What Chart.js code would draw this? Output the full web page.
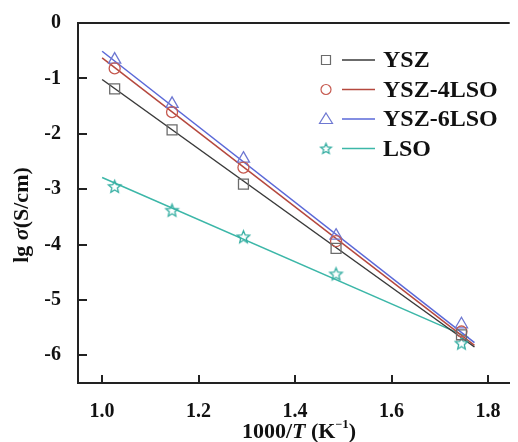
<!DOCTYPE html>
<html lang="en">
<head>
<meta charset="UTF-8">
<title>Conductivity vs 1000/T</title>
<style>
  body { margin: 0; background: #fff; overflow: hidden; }
  #wrap { width: 518px; height: 442px; }
</style>
<script src="https://cdn.jsdelivr.net/npm/chart.js"></script>
</head>
<body>
<div id="wrap"><canvas id="myChart" width="518" height="442"></canvas></div>
<script>
  // measured points, 1000/T (K^-1) against lg sigma (S/cm)
  var invT    = [1.026, 1.145, 1.293, 1.485, 1.745];
  var ysz     = [-1.19, -1.93, -2.91, -4.07, -5.63];
  var ysz4lso = [-0.82, -1.61, -2.61, -3.94, -5.57];
  var ysz6lso = [-0.66, -1.46, -2.45, -3.84, -5.44];
  var lso     = [-2.95, -3.38, -3.86, -4.53, -5.78];

  // straight-line fits, end points
  var fitX       = [1.0, 1.772];
  var fitXLso    = [1.0, 1.76];
  var fitYsz     = [-1.02, -5.85];
  var fitYsz4lso = [-0.63, -5.82];
  var fitYsz6lso = [-0.51, -5.77];
  var fitLso     = [-2.79, -5.68];

  var xTicks = [1.0, 1.2, 1.4, 1.6, 1.8];
  var yTicks = [0, -1, -2, -3, -4, -5, -6];
  var names  = ['YSZ', 'YSZ-4LSO', 'YSZ-6LSO', 'LSO'];

  var markColors = ['#6b6b6b', '#c65a50', '#6e78d2', '#35aea2'];
  var lineColors = ['#3a3a3a', '#b5483e', '#5a68d8', '#3cb7a8'];

  var serif = '"Liberation Serif", "Times New Roman", serif';

  function starImage(color, r) {
    var c = document.createElement('canvas');
    var s = Math.ceil(r * 2 + 4);
    c.width = s; c.height = s;
    var g = c.getContext('2d');
    g.strokeStyle = color;
    g.lineWidth = 1.3;
    g.beginPath();
    for (var i = 0; i < 10; i++) {
      var rr = i % 2 ? r * 0.45 : r;
      var a = -Math.PI / 2 + i * Math.PI / 5;
      var px = s / 2 + rr * Math.cos(a), py = s / 2 + 0.5 + rr * Math.sin(a);
      if (i) g.lineTo(px, py); else g.moveTo(px, py);
    }
    g.closePath();
    g.stroke();
    return c;
  }

  var star = starImage(markColors[3], 6.5);
  var starSmall = starImage(markColors[3], 5.5);

  function pts(xs, ys) {
    return xs.map(function (x, i) { return { x: x, y: ys[i] }; });
  }

  function markSet(i, ys, style, r) {
    return {
      label: names[i], data: pts(invT, ys), showLine: false,
      pointStyle: style, pointRadius: r, pointHoverRadius: r,
      pointBorderColor: markColors[i], pointBackgroundColor: 'rgba(0,0,0,0)',
      pointBorderWidth: 1.3, order: 1
    };
  }

  function fitSet(i, xs, ys) {
    return {
      label: names[i] + ' fit', data: pts(xs, ys), showLine: true,
      borderColor: lineColors[i], borderWidth: 1.5, pointRadius: 0, order: 2
    };
  }

  function drawRich(ctx, parts, x, y, rotate) {
    var w = 0;
    parts.forEach(function (p) { ctx.font = p.f; w += ctx.measureText(p.t).width; });
    ctx.save();
    ctx.translate(x, y);
    if (rotate) ctx.rotate(-Math.PI / 2);
    ctx.textBaseline = 'alphabetic';
    ctx.textAlign = 'left';
    ctx.fillStyle = '#111';
    var cx = -w / 2;
    parts.forEach(function (p) {
      ctx.font = p.f;
      ctx.fillText(p.t, cx, p.dy || 0);
      cx += ctx.measureText(p.t).width;
    });
    ctx.restore();
  }

  function legendMark(ctx, i, x, y) {
    ctx.save();
    ctx.strokeStyle = markColors[i];
    ctx.lineWidth = 1.2;
    ctx.beginPath();
    if (i === 0) ctx.rect(x - 4.5, y - 4.5, 9, 9);
    if (i === 1) ctx.arc(x, y, 5, 0, Math.PI * 2);
    if (i === 2) { ctx.moveTo(x, y - 6); ctx.lineTo(x + 6.5, y + 4.5); ctx.lineTo(x - 6.5, y + 4.5); ctx.closePath(); }
    ctx.stroke();
    if (i === 3) ctx.drawImage(starSmall, x - starSmall.width / 2, y - starSmall.height / 2);
    ctx.restore();
  }

  var decorations = {
    id: 'decorations',
    afterDraw: function (chart) {
      var ctx = chart.ctx, a = chart.chartArea;
      var xs = chart.scales.x, ys = chart.scales.y;
      ctx.save();
      ctx.strokeStyle = '#222';
      ctx.lineWidth = 2;
      // top frame line
      ctx.beginPath();
      ctx.moveTo(a.left - 1, a.top);
      ctx.lineTo(a.right, a.top);
      ctx.stroke();
      // inward ticks
      ctx.beginPath();
      xTicks.forEach(function (v) {
        var px = Math.round(xs.getPixelForValue(v));
        ctx.moveTo(px, a.bottom);
        ctx.lineTo(px, a.bottom - 8);
      });
      yTicks.forEach(function (v) {
        var py = Math.round(ys.getPixelForValue(v));
        ctx.moveTo(a.left, py);
        ctx.lineTo(a.left + 9, py);
      });
      ctx.stroke();
      ctx.restore();

      // axis titles
      var b = 'bold 22px ' + serif, bi = 'italic bold 22px ' + serif;
      drawRich(ctx, [
        { t: '1000/', f: b }, { t: 'T', f: bi }, { t: ' (K', f: b },
        { t: '\u2212', f: 'bold 12px ' + serif, dy: -10 }, { t: '1', f: 'bold 13px ' + serif, dy: -10 },
        { t: ')', f: b }
      ], 299, 438, false);
      drawRich(ctx, [
        { t: 'lg ', f: b }, { t: '\u03c3', f: bi }, { t: '(S/cm)', f: b }
      ], 28, 215, true);

      // legend: marker, line sample, name
      ctx.save();
      ctx.font = 'bold 24px ' + serif;
      ctx.textBaseline = 'middle';
      ctx.fillStyle = '#111';
      names.forEach(function (n, i) {
        var y = 60 + i * 29.5;
        legendMark(ctx, i, 326, y);
        ctx.strokeStyle = lineColors[i];
        ctx.lineWidth = 1.5;
        ctx.beginPath();
        ctx.moveTo(342, y);
        ctx.lineTo(375, y);
        ctx.stroke();
        ctx.fillText(n, 383, y + 1);
      });
      ctx.restore();
    }
  };

  var tickFont = { family: serif, size: 20, weight: 'bold' };

  new Chart(document.getElementById('myChart'), {
    type: 'scatter',
    data: {
      datasets: [
        fitSet(0, fitX, fitYsz),
        fitSet(1, fitX, fitYsz4lso),
        fitSet(2, fitX, fitYsz6lso),
        fitSet(3, fitXLso, fitLso),
        markSet(0, ysz, 'rect', 7),
        markSet(1, ysz4lso, 'circle', 5.5),
        markSet(2, ysz6lso, 'triangle', 7),
        markSet(3, lso, star, 7)
      ]
    },
    options: {
      responsive: false,
      animation: false,
      devicePixelRatio: 1,
      layout: { padding: { top: 23, right: 0, left: 0, bottom: 0 } },
      plugins: { legend: { display: false }, tooltip: { enabled: false } },
      scales: {
        x: {
          type: 'linear', min: 0.95, max: 1.845,
          grid: { display: false },
          border: { display: true, color: '#222', width: 2 },
          ticks: { font: tickFont, color: '#111', padding: 9, maxRotation: 0,
                   callback: function (v) { return v.toFixed(1); } },
          afterBuildTicks: function (s) { s.ticks = xTicks.map(function (v) { return { value: v }; }); },
          afterFit: function (s) { s.height = 59; }
        },
        y: {
          type: 'linear', min: -6.5, max: 0,
          grid: { display: false },
          border: { display: true, color: '#222', width: 2 },
          ticks: { font: tickFont, color: '#111', padding: 9 },
          afterBuildTicks: function (s) { s.ticks = yTicks.map(function (v) { return { value: v }; }); },
          afterFit: function (s) { s.width = 78; }
        }
      }
    },
    plugins: [decorations]
  });
</script>
</body>
</html>
